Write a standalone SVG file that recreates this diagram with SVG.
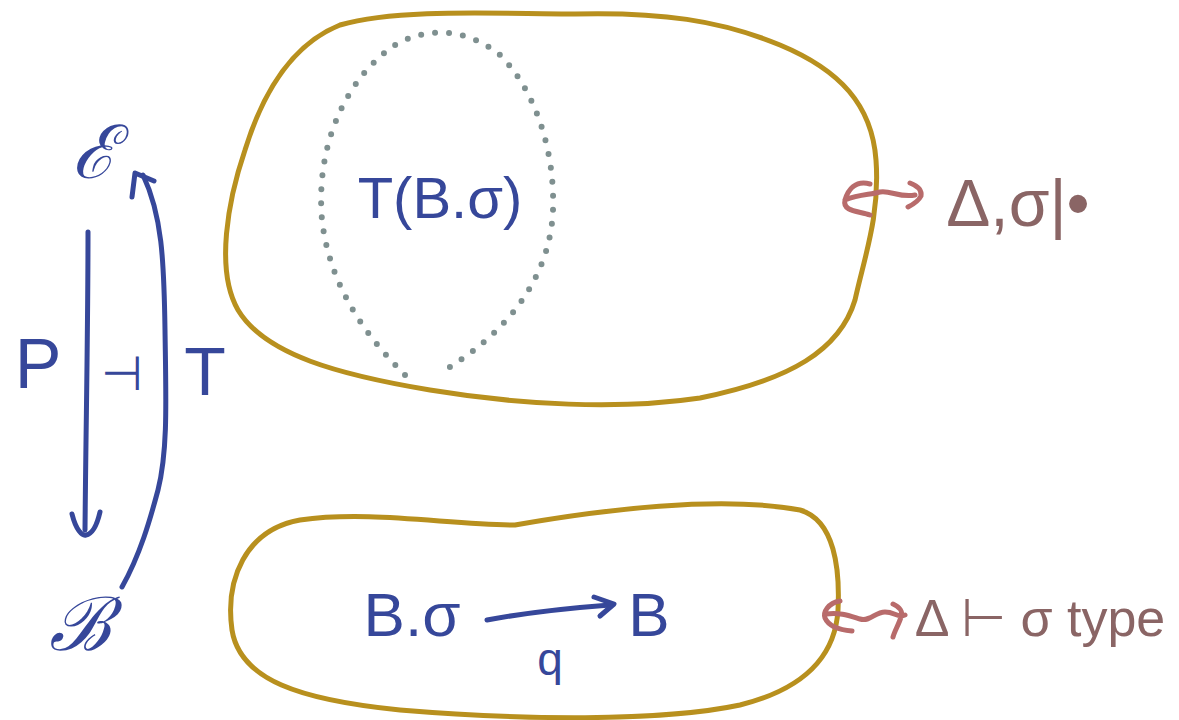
<svg xmlns="http://www.w3.org/2000/svg" width="1179" height="720" viewBox="0 0 1179 720">
<style>
.blob{fill:none;stroke:#B8901E;stroke-width:5;stroke-linecap:round;stroke-linejoin:round}
.dots{fill:none;stroke:#7F9090;stroke-width:6;stroke-linecap:round;stroke-dasharray:0 14}
.ink{fill:none;stroke:#36479A;stroke-width:5;stroke-linecap:round;stroke-linejoin:round}
.sq{fill:none;stroke:#B86B6B;stroke-width:5;stroke-linecap:round;stroke-linejoin:round}
.b{font-family:"Liberation Sans",Arial,sans-serif;fill:#36479A}
.m{font-family:"Liberation Sans",Arial,sans-serif;fill:#8A6565}
</style>
<rect width="1179" height="720" fill="#fff"/>
<g id="total-space">
<path class="blob" d="M575,14 C660,12 720,20 780,45 C840,70 872,105 876,160 C880,215 865,255 855,300 C840,350 790,380 700,398 C620,410 520,405 430,390 C340,375 265,355 238,310 C215,270 228,200 245,150 C262,95 290,45 340,25 C400,8 500,14 575,14 Z"/>
<path class="dots" d="M405,375 C370,340 330,290 322,220 C315,140 350,75 395,45 C430,25 470,30 500,55 C535,90 555,150 553,210 C550,280 505,335 440,373"/>
<text class="b" x="440" y="218" font-size="58" text-anchor="middle">T(B.σ)</text>
</g>
<g id="base-space">
<path class="blob" d="M515,525 C600,510 720,495 800,510 C835,520 840,570 838,610 C835,660 800,690 740,705 C660,722 520,720 400,710 C300,700 240,680 232,630 C225,580 245,530 300,520 C370,510 450,525 515,525 Z"/>
<text class="b" x="412" y="636" font-size="62" text-anchor="middle">B.σ</text>
<text class="b" x="649" y="636" font-size="62" text-anchor="middle">B</text>
</g>
<g id="E"><text class="b" x="94" y="178" font-size="74" font-style="italic" text-anchor="middle" font-family="Liberation Serif">ℰ</text></g>
<g id="Bcal"><text class="b" x="80" y="650" font-size="74" font-style="italic" text-anchor="middle" font-family="Liberation Serif">ℬ</text></g>
<g id="labels">
<text class="b" x="38" y="388" font-size="70" text-anchor="middle">P</text>
<text class="b" x="122" y="390" font-size="48" text-anchor="middle">⊣</text>
<text class="b" x="205" y="395" font-size="68" text-anchor="middle">T</text>
<text class="b" x="550" y="675" font-size="46" text-anchor="middle">q</text>
<text class="m" x="1018" y="226" font-size="66" text-anchor="middle">Δ,σ|•</text>
<text class="m" x="1040" y="636" font-size="52" text-anchor="middle">Δ ⊢ σ type</text>
</g>
<g id="connectors">
<path class="ink" d="M88,232 C88,330 86,420 85,530"/>
<path class="ink" d="M72,514 C76,530 82,536 86,535 C92,534 97,525 100,512"/>
<path class="ink" d="M122,587 C140,555 150,520 158,490 C168,450 166,400 165,330 C164,260 162,215 143,175"/>
<path class="ink" d="M132,197 L135,173 L154,181"/>
<path class="ink" d="M487,620 C530,612 570,608 610,605"/>
<path class="ink" d="M594,597 L614,604 L600,616"/>
<path class="sq" d="M870,184 C855,180 848,190 845,200 C842,212 860,211 870,215 M845,200 C860,194 870,195 880,192 C890,190 900,198 915,195 M910,183 C918,186 922,190 921,196 C918,202 912,205 908,207"/>
<path class="sq" d="M840,601 C828,603 823,612 825,618 C829,627 840,630 852,631 M826,614 C840,612 850,616 860,619 C870,622 875,612 885,612 C895,612 897,618 905,615 M893,604 C900,607 903,612 901,617 C899,624 895,630 893,637"/>
</g>
</svg>
